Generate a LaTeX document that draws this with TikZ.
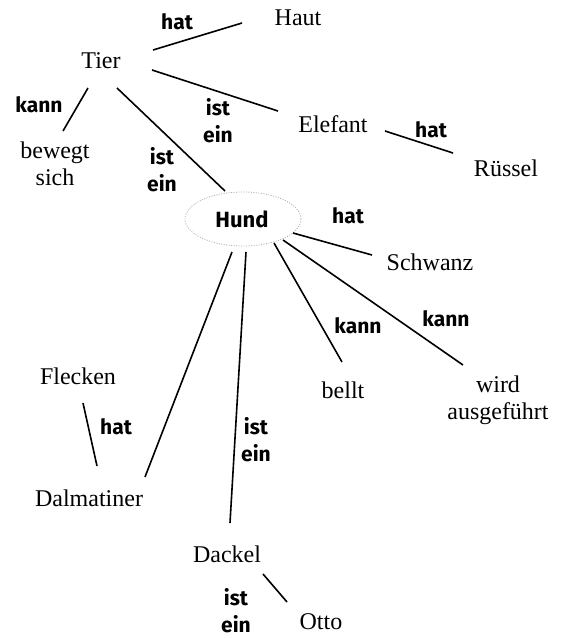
\documentclass[tikz,border=0pt]{standalone}
\usepackage{fontspec}
\setmainfont{Liberation Serif}
\newfontfamily\labelfont{Fira Sans}
\usetikzlibrary{shapes.geometric}
\begin{document}
\begin{tikzpicture}[x=1pt,y=-1pt,
  concept/.style={inner sep=0pt, font=\fontsize{24}{27}\selectfont, align=center},
  rel/.style={inner sep=0pt, font=\labelfont\bfseries\fontsize{21}{27}\selectfont, align=center},
  link/.style={line width=1.6pt, black},
  halo/.style={ellipse, draw=gray!65, line width=0.8pt, dash pattern=on 1pt off 1.5pt,
    minimum width=116pt, minimum height=54pt, inner sep=0pt}]
\useasboundingbox (0,0) rectangle (561,638);

% concepts
\node[concept] (tier) at (101,61) {Tier};
\node[concept] (haut) at (298,18) {Haut};
\node[concept] (bewegt) at (55,164) {bewegt\\sich};
\node[concept] (elefant) at (333,124) {Elefant};
\node[concept] (ruessel) at (506,168) {Rüssel};
\node[halo] (hundring) at (243,219) {};
\node[rel, font=\labelfont\bfseries\fontsize{22}{24}\selectfont] (hund) at (242,219) {Hund};
\node[concept] (schwanz) at (430,262) {Schwanz};
\node[concept] (bellt) at (343,390) {bellt};
\node[concept] (wird) at (498,400) {wird\\ausgeführt};
\node[concept] (flecken) at (78,376) {Flecken};
\node[concept] (dalmatiner) at (89,498) {Dalmatiner};
\node[concept] (dackel) at (227,554) {Dackel};
\node[concept] (otto) at (321,622) {Otto};

% relation labels
\node[rel] (r1) at (177,22) {hat};
\node[rel] (r2) at (39,105) {kann};
\node[rel] (r3) at (218,121) {ist\\ein};
\node[rel] (r4) at (162,170) {ist\\ein};
\node[rel] (r5) at (431,130) {hat};
\node[rel] (r6) at (348,216) {hat};
\node[rel] (r7) at (358,326) {kann};
\node[rel] (r8) at (446,319) {kann};
\node[rel] (r9) at (116,427) {hat};
\node[rel] (r10) at (256,440) {ist\\ein};
\node[rel] (r11) at (236,611) {ist\\ein};

% connector ends
\coordinate (tier-haut) at (153,50);   \coordinate (haut-tier) at (242,23);
\coordinate (tier-bew) at (88,88);     \coordinate (bew-tier) at (63,131);
\coordinate (tier-ele) at (152,70);    \coordinate (ele-tier) at (278,111);
\coordinate (tier-hund) at (117,88);   \coordinate (hund-tier) at (225,191);
\coordinate (ele-rue) at (385,131);    \coordinate (rue-ele) at (453,153);
\coordinate (hund-sch) at (293,233);   \coordinate (sch-hund) at (372,255);
\coordinate (hund-wird) at (283,240);  \coordinate (wird-hund) at (463,365);
\coordinate (hund-bellt) at (274,243); \coordinate (bellt-hund) at (342,362);
\coordinate (hund-dal) at (232,252);   \coordinate (dal-hund) at (145,477);
\coordinate (hund-dack) at (246,252);  \coordinate (dack-hund) at (230,523);
\coordinate (fle-dal) at (83,403);     \coordinate (dal-fle) at (97,466);
\coordinate (dack-otto) at (263,574);  \coordinate (otto-dack) at (287,602);

% connectors
\draw[link] (tier-haut) -- (haut-tier);
\draw[link] (tier-bew) -- (bew-tier);
\draw[link] (tier-ele) -- (ele-tier);
\draw[link] (tier-hund) -- (hund-tier);
\draw[link] (ele-rue) -- (rue-ele);
\draw[link] (hund-sch) -- (sch-hund);
\draw[link] (hund-wird) -- (wird-hund);
\draw[link] (hund-bellt) -- (bellt-hund);
\draw[link] (hund-dal) -- (dal-hund);
\draw[link] (hund-dack) -- (dack-hund);
\draw[link] (fle-dal) -- (dal-fle);
\draw[link] (dack-otto) -- (otto-dack);
\end{tikzpicture}
\end{document}
